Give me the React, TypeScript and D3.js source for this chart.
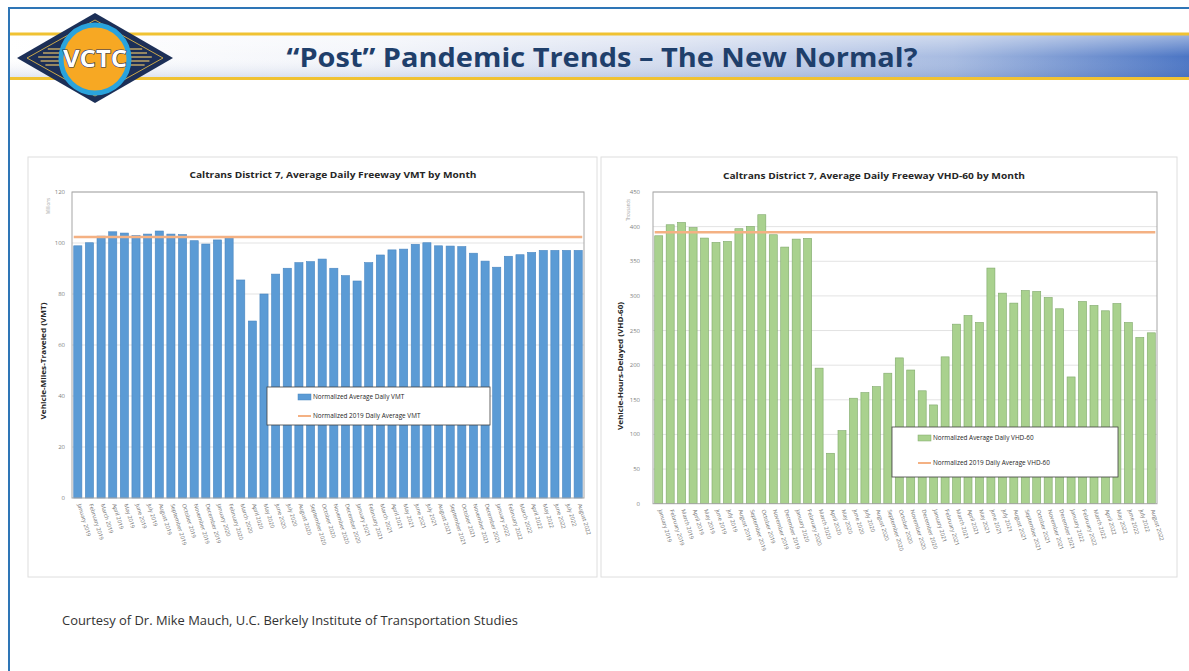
import React from "react";
import * as d3 from "d3";

const months: string[] = [
  "January 2019","February 2019","March 2019","April 2019","May 2019","June 2019","July 2019","August 2019","September 2019","October 2019","November 2019","December 2019",
  "January 2020","February 2020","March 2020","April 2020","May 2020","June 2020","July 2020","August 2020","September 2020","October 2020","November 2020","December 2020",
  "January 2021","February 2021","March 2021","April 2021","May 2021","June 2021","July 2021","August 2021","September 2021","October 2021","November 2021","December 2021",
  "January 2022","February 2022","March 2022","April 2022","May 2022","June 2022","July 2022","August 2022",
];

const vmtValues: number[] = [
  98.9, 100.1, 102.7, 104.4, 103.9, 102.9, 103.5, 104.7, 103.5, 103.3, 100.9, 99.6,
  101.2, 102.4, 85.5, 69.4, 80.0, 87.8, 90.1, 92.3, 92.7, 93.7, 90.1, 87.2,
  85.1, 92.3, 95.3, 97.3, 97.6, 99.5, 100.1, 98.9, 98.8, 98.6, 96.0, 92.9,
  90.5, 94.8, 95.4, 96.3, 97.1, 97.1, 97.1, 97.1,
];
const vmtBaseline = 102.4;
const vmtTicks: number[] = [0, 20, 40, 60, 80, 100, 120];

const vhdValues: number[] = [
  386.8, 402.7, 406.0, 398.8, 383.5, 377.2, 378.6, 397.0, 400.3, 417.2, 388.3, 370.5,
  382.0, 383.0, 195.7, 72.8, 105.5, 152.3, 160.4, 169.0, 188.4, 210.5, 193.0, 163.0,
  142.6, 212.0, 259.2, 271.7, 261.6, 340.2, 304.0, 289.6, 307.8, 306.4, 297.7, 281.4,
  183.0, 291.9, 286.2, 278.5, 289.0, 261.6, 240.0, 246.7,
];
const vhdBaseline = 392;
const vhdTicks: number[] = [0, 50, 100, 150, 200, 250, 300, 350, 400, 450];

const FONT = "'Open Sans', 'Noto Sans', sans-serif";

type PanelProps = {
  values: number[];
  baseline: number;
  ticks: number[];
  x0: number; x1: number; yTop: number; yBottom: number;
  barColor: string; barStroke: string;
  title: string; titleX: number; titleY: number; titleLen: number;
  yTitle: string; yTitleX: number; yTitleY: number; yTitleLen: number;
  unit: string; unitX: number; unitY: number; unitLen: number;
  tickX: number;
  legend: { x: number; y: number; w: number; h: number; y1: number; y2: number; sx: number; t1: string; t2: string };
  labelDy: number;
};

function Panel(p: PanelProps) {
  const x = d3.scaleBand<string>().domain(months).range([p.x0, p.x1]).paddingInner(0.3).paddingOuter(0.15);
  const y = d3.scaleLinear().domain([0, p.ticks[p.ticks.length - 1]]).range([p.yBottom, p.yTop]);
  const bw = x.bandwidth();
  const lineStart = x(months[0])!;
  const lineEnd = x(months[months.length - 1])! + bw;
  return (
    <g>
      {p.ticks.map((t) => (
        <g key={t}>
          {t > 0 && <line x1={p.x0} x2={p.x1} y1={y(t)} y2={y(t)} stroke="#e3e3e3" strokeWidth={1} />}
          <text x={p.tickX} y={y(t) + 2} fontSize={6} fill="#7f7f7f" textAnchor="end" fontFamily={FONT}>{t}</text>
        </g>
      ))}
      {p.values.map((v, i) => (
        <rect key={i} x={x(months[i])} y={y(v)} width={bw} height={p.yBottom - y(v)} fill={p.barColor} stroke={p.barStroke} strokeWidth={0.6} />
      ))}
      <line x1={lineStart} x2={lineEnd} y1={y(p.baseline)} y2={y(p.baseline)} stroke="#f4b183" strokeWidth={2.5} />
      <rect x={p.x0} y={p.yTop} width={p.x1 - p.x0} height={p.yBottom - p.yTop} fill="none" stroke="#a6a6a6" strokeWidth={1} />
      {months.map((m) => {
        const cx = x(m)! + bw / 2 + 1;
        const cy = p.yBottom + p.labelDy;
        return (
          <text key={m} x={cx} y={cy} fontSize={5.6} fill="#6f6f6f" fontFamily={FONT} transform={`rotate(73 ${cx} ${cy})`} dominantBaseline="middle">{m}</text>
        );
      })}
      <text x={p.titleX} y={p.titleY} fontSize={9.5} fontWeight="bold" fill="#262626" textAnchor="middle" fontFamily={FONT} textLength={p.titleLen} lengthAdjust="spacingAndGlyphs">{p.title}</text>
      <text x={p.yTitleX} y={p.yTitleY} fontSize={6.6} fontWeight="bold" fill="#262626" textAnchor="middle" fontFamily={FONT} transform={`rotate(-90 ${p.yTitleX} ${p.yTitleY})`} textLength={p.yTitleLen} lengthAdjust="spacingAndGlyphs">{p.yTitle}</text>
      <text x={p.unitX} y={p.unitY} fontSize={4.5} fill="#a0a0a0" textAnchor="middle" fontFamily={FONT} transform={`rotate(-90 ${p.unitX} ${p.unitY})`} textLength={p.unitLen} lengthAdjust="spacingAndGlyphs">{p.unit}</text>
      <g>
        <rect x={p.legend.x} y={p.legend.y} width={p.legend.w} height={p.legend.h} fill="#ffffff" stroke="#404040" strokeWidth={0.8} />
        <rect x={p.legend.sx} y={p.legend.y1 - 3} width={13} height={6} fill={p.barColor} stroke={p.barStroke} strokeWidth={0.5} />
        <text x={p.legend.sx + 15} y={p.legend.y1 + 2.2} fontSize={6.4} fill="#262626" fontFamily={FONT}>{p.legend.t1}</text>
        <line x1={p.legend.sx} x2={p.legend.sx + 13} y1={p.legend.y2} y2={p.legend.y2} stroke="#f4b183" strokeWidth={2} />
        <text x={p.legend.sx + 15} y={p.legend.y2 + 2.2} fontSize={6.4} fill="#262626" fontFamily={FONT}>{p.legend.t2}</text>
      </g>
    </g>
  );
}

function Logo() {
  const cx = 95, cy = 58;
  const stripes = [-9, -5, -1, 3, 7];
  return (
    <g>
      <polygon points={`${cx - 78},${cy} ${cx},${cy - 45} ${cx + 78},${cy} ${cx},${cy + 45}`} fill="#1c2f57" />
      <polygon points={`${cx - 68},${cy} ${cx},${cy - 38} ${cx + 68},${cy} ${cx},${cy + 38}`} fill="none" stroke="#c9a84a" strokeWidth={1} />
      {stripes.map((s) => (
        <g key={s}>
          <line x1={cx - 58 + Math.abs(s) * 1.2} x2={cx - 30} y1={cy + s} y2={cy + s} stroke="#d9b96a" strokeWidth={1.3} />
          <line x1={cx + 30} x2={cx + 58 - Math.abs(s) * 1.2} y1={cy + s} y2={cy + s} stroke="#d9b96a" strokeWidth={1.3} />
        </g>
      ))}
      <circle cx={cx} cy={cy + 1} r={34} fill="#f7a823" stroke="#2aa3dc" strokeWidth={5} />
      <text x={cx} y={cy + 9} fontSize={24} fontWeight="bold" fill="#ffffff" stroke="#1c2f57" strokeWidth={1.2} paintOrder="stroke" textAnchor="middle" fontFamily={FONT} textLength={64} lengthAdjust="spacingAndGlyphs">VCTC</text>
    </g>
  );
}

export default function App() {
  return (
    <svg width={1189} height={671} style={{ position: "absolute", left: 0, top: 0, background: "#ffffff" }}>
      <defs>
        <linearGradient id="band" x1="0" x2="1" y1="0" y2="0">
          <stop offset="0" stopColor="#ffffff" />
          <stop offset="0.3" stopColor="#f3f5fa" />
          <stop offset="0.55" stopColor="#d5ddef" />
          <stop offset="0.8" stopColor="#a7bbe1" />
          <stop offset="1" stopColor="#4b75c4" />
        </linearGradient>
        <linearGradient id="bandV" x1="0" x2="0" y1="0" y2="1">
          <stop offset="0" stopColor="#ffffff" stopOpacity={0.45} />
          <stop offset="0.5" stopColor="#ffffff" stopOpacity={0} />
          <stop offset="1" stopColor="#2c4f9a" stopOpacity={0.15} />
        </linearGradient>
      </defs>
      <rect x={0} y={0} width={1189} height={671} fill="#ffffff" />
      <line x1={9} x2={1189} y1={8} y2={8} stroke="#2e75b6" strokeWidth={2} />
      <line x1={9} x2={9} y1={7} y2={671} stroke="#2e75b6" strokeWidth={2} />
      <rect x={10} y={35} width={1179} height={43} fill="url(#band)" />
      <rect x={10} y={35} width={1179} height={43} fill="url(#bandV)" />
      <line x1={10} x2={1189} y1={34} y2={34} stroke="#f0c232" strokeWidth={3} />
      <line x1={10} x2={1189} y1={78.5} y2={78.5} stroke="#f0c232" strokeWidth={3} />
      <Logo />
      <text x={602} y={67} fontSize={27} fontWeight="bold" fill="#1f3f6b" textAnchor="middle" fontFamily={FONT} textLength={631} lengthAdjust="spacingAndGlyphs">“Post” Pandemic Trends – The New Normal?</text>

      <rect x={28} y={157} width={569} height={420} fill="#ffffff" stroke="#dedede" strokeWidth={1} />
      <rect x={601} y={157} width={576} height={420} fill="#ffffff" stroke="#dedede" strokeWidth={1} />

      <Panel
        values={vmtValues} baseline={vmtBaseline} ticks={vmtTicks}
        x0={72} x1={584} yTop={192} yBottom={498}
        barColor="#5b9bd5" barStroke="#4a86c0"
        title="Caltrans District 7, Average Daily Freeway VMT by Month" titleX={333} titleY={178} titleLen={287}
        yTitle="Vehicle-Miles-Traveled (VMT)" yTitleX={46} yTitleY={361} yTitleLen={117}
        unit="Millions" unitX={50} unitY={206} unitLen={16}
        tickX={65}
        legend={{ x: 267, y: 387, w: 223, h: 38, y1: 397, y2: 416, sx: 298, t1: "Normalized Average Daily VMT", t2: "Normalized 2019 Daily Average VMT" }}
        labelDy={6}
      />
      <Panel
        values={vhdValues} baseline={vhdBaseline} ticks={vhdTicks}
        x0={653} x1={1157} yTop={192} yBottom={503.7}
        barColor="#a9d18e" barStroke="#7fa86a"
        title="Caltrans District 7, Average Daily Freeway VHD-60 by Month" titleX={874} titleY={179} titleLen={302}
        yTitle="Vehicle-Hours-Delayed (VHD-60)" yTitleX={623} yTitleY={366} yTitleLen={128}
        unit="Thousands" unitX={630} unitY={210} unitLen={22}
        tickX={640}
        legend={{ x: 892, y: 427, w: 226, h: 50, y1: 438, y2: 463, sx: 918, t1: "Normalized Average Daily VHD-60", t2: "Normalized 2019 Daily Average VHD-60" }}
        labelDy={6}
      />

      <text x={62} y={625} fontSize={12.5} fill="#333333" fontFamily={FONT} textLength={456} lengthAdjust="spacingAndGlyphs">Courtesy of Dr. Mike Mauch, U.C. Berkely Institute of Transportation Studies</text>
    </svg>
  );
}
